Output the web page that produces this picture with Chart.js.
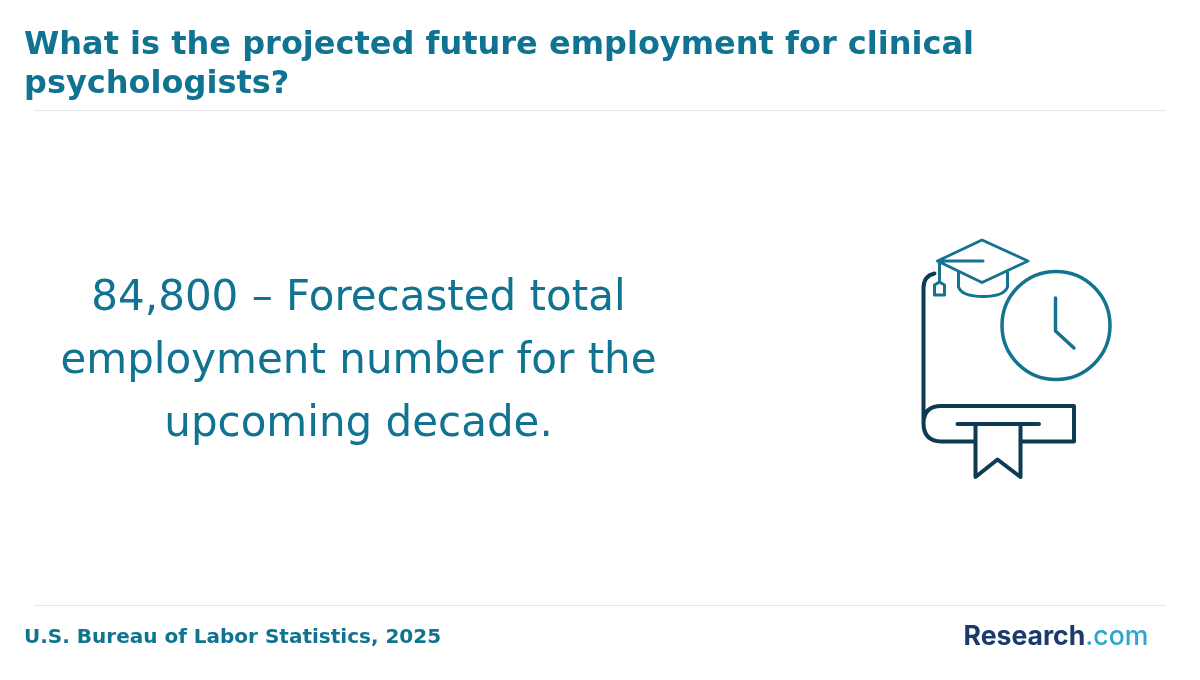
<!DOCTYPE html>
<html><head><meta charset="utf-8">
<script src="https://cdn.jsdelivr.net/npm/chart.js@4"></script>
<style>html,body{margin:0;padding:0;background:#fff}#w{width:1200px;height:680px}</style>
</head><body><div id="w"><canvas id="c" width="1200" height="680"></canvas></div>
<script>
const titleLines = ["What is the projected future employment for clinical", "psychologists?"];
const calloutLines = ["84,800 – Forecasted total", "employment number for the", "upcoming decade."];
const sourceText = "U.S. Bureau of Labor Statistics, 2025";
const logoParts = ["Research", ".com"];
const TEAL = "#0f7391", DARK = "#0d3b53", ICON = "#14738f", RULE = "#e6e6e6";

const stroke = (ctx, color, width, fn) => {
  ctx.beginPath(); fn(ctx);
  ctx.strokeStyle = color; ctx.lineWidth = width; ctx.lineCap = "round"; ctx.lineJoin = "round"; ctx.stroke();
};
const slidePlugin = {
  id: "slide",
  afterDraw(chart) {
    const ctx = chart.ctx;
    ctx.save();
    ctx.textBaseline = "alphabetic";
    ctx.fillStyle = RULE;
    ctx.fillRect(34, 110, 1132, 1);
    ctx.fillRect(34, 605, 1132, 1);
    ctx.fillStyle = TEAL; ctx.textAlign = "left";
    ctx.font = "bold 32px 'DejaVu Sans'";
    titleLines.forEach((t, i) => ctx.fillText(t, 24, 54 + i * 39));
    ctx.textAlign = "center";
    ctx.font = "42px 'DejaVu Sans'";
    calloutLines.forEach((t, i) => ctx.fillText(t, 358.5, 310 + i * 63));
    ctx.textAlign = "left";
    ctx.font = "bold 20px 'DejaVu Sans'";
    ctx.fillText(sourceText, 24, 643);
    ctx.font = "700 26.6px Inter";
    ctx.fillStyle = "#1a3a6a";
    ctx.fillText(logoParts[0], 963.5, 645);
    const w = ctx.measureText(logoParts[0]).width;
    ctx.fillStyle = "#2ba7cf"; ctx.font = "500 26.6px Inter";
    ctx.fillText(logoParts[1], 963.5 + w, 645);
    stroke(ctx, DARK, 4, c => {
      c.moveTo(934.5, 273.5); c.quadraticCurveTo(923.5, 276, 923.5, 288); c.lineTo(923.5, 423);
      c.moveTo(923.5, 423); c.quadraticCurveTo(924, 406, 941, 406); c.lineTo(1074, 406); c.lineTo(1074, 441.5); c.lineTo(1021, 441.5);
      c.moveTo(975.5, 441.5); c.lineTo(941, 441.5); c.quadraticCurveTo(923.5, 441, 923.5, 423);
      c.moveTo(957.5, 424); c.lineTo(1039, 424);
      c.moveTo(975.5, 424); c.lineTo(975.5, 477); c.lineTo(997.5, 459.5); c.lineTo(1020.5, 477); c.lineTo(1020.5, 424);
    });
    stroke(ctx, ICON, 3, c => {
      c.moveTo(982, 240); c.lineTo(1028, 261); c.lineTo(982, 282.5); c.lineTo(937.5, 261); c.closePath();
      c.moveTo(937.5, 261); c.lineTo(983, 261);
      c.moveTo(939.5, 261); c.lineTo(939.5, 282);
      c.moveTo(939.5, 282); c.lineTo(944.5, 285); c.lineTo(944.5, 295); c.lineTo(934.5, 295); c.lineTo(934.5, 285); c.closePath();
      c.moveTo(958.5, 272); c.lineTo(958.5, 287); c.quadraticCurveTo(962, 296.5, 983, 296.5); c.quadraticCurveTo(1004, 296.5, 1007.5, 287); c.lineTo(1007.5, 272);
    });
    stroke(ctx, ICON, 3.5, c => {
      c.arc(1056, 325.5, 54, 0, Math.PI * 2);
      c.moveTo(1055.5, 298); c.lineTo(1055.5, 331); c.lineTo(1074, 348);
    });
    ctx.restore();
  }
};
Chart.defaults.animation = false;
new Chart(document.getElementById("c"), {
  type: "scatter",
  data: { datasets: [] },
  options: {
    responsive: false, devicePixelRatio: 1, animation: false,
    plugins: { legend: { display: false }, tooltip: { enabled: false }, title: { display: false } },
    scales: { x: { display: false }, y: { display: false } }
  },
  plugins: [slidePlugin]
});
</script></body></html>
